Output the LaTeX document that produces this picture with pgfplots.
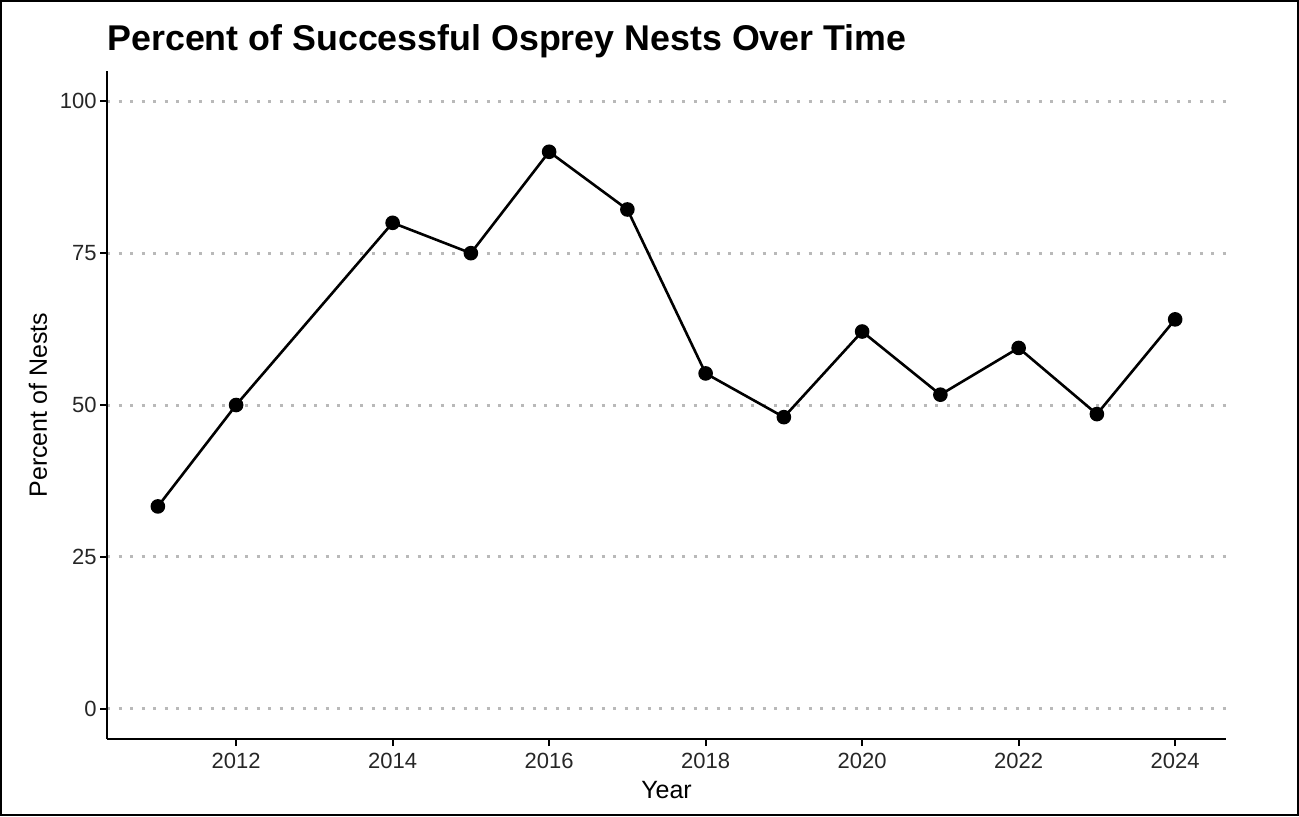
\documentclass[border=0pt]{standalone}
\usepackage{fontspec}
\setmainfont{Liberation Sans}
\usepackage{pgfplots}
\pgfplotsset{compat=1.18}
\begin{document}
\begin{tikzpicture}
\useasboundingbox (-53.5pt,-38.5pt) rectangle (596pt,369.5pt);
\draw[line width=0.8pt] (-53.1pt,-38.1pt) rectangle (595.6pt,369.1pt);
\begin{axis}[
  scale only axis, width=559.5pt, height=334pt,
  xmin=2010.35, xmax=2024.65, ymin=-5, ymax=105,
  axis x line*=bottom, axis y line*=left,
  axis line style={-, line width=1pt, black},
  xtick={2012,2014,...,2024}, ytick={0,25,50,75,100},
  tick align=outside, major tick length=3.5pt,
  tick style={line width=1pt, black},
  ymajorgrids,
  major grid style={gray!55, line width=1.5pt, dash pattern=on 1.5pt off 4.25pt},
  /pgf/number format/1000 sep={},
  /pgf/number format/assume math mode=true,
  tick label style={font=\fontsize{11}{13}\selectfont, text=black!85},
  yticklabel style={inner sep=1.5pt},
  label style={font=\fontsize{12.5}{14}\selectfont},
  xlabel={Year}, ylabel={Percent of Nests},
  xlabel style={at={(axis description cs:0.5,0)}, anchor=center, yshift=-25.5pt},
  ylabel style={at={(axis description cs:-0.0617,0.5)}, anchor=center},
]
\addplot[black, line width=1.3pt, mark=*, mark size=3pt] coordinates {
  (2011,33.3) (2012,50.0) (2014,80.0) (2015,75.0) (2016,91.7) (2017,82.2)
  (2018,55.2) (2019,48.0) (2020,62.1) (2021,51.7) (2022,59.4) (2023,48.5) (2024,64.1)
};
\end{axis}
\node[anchor=base west, font=\bfseries\fontsize{17.9}{20}\selectfont, inner sep=0] at (0,344.5pt) {Percent of Successful Osprey Nests Over Time};
\end{tikzpicture}
\end{document}
